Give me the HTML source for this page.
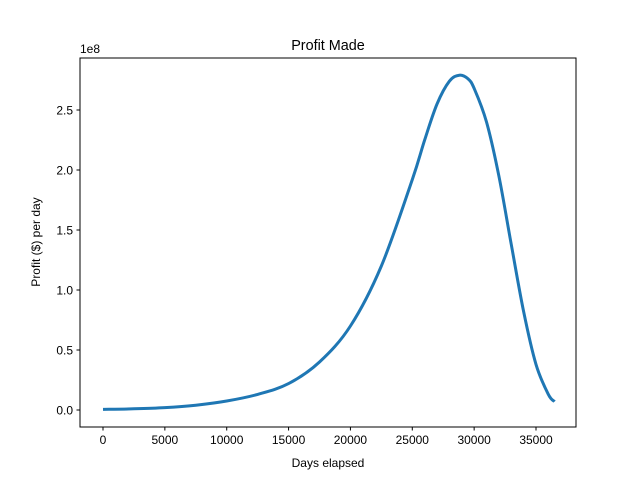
<!DOCTYPE html>
<html><head><meta charset="utf-8"><style>body{margin:0;background:#fff}svg{font-family:"Liberation Sans","DejaVu Sans",sans-serif}</style></head>
<body>
<svg id="chart" width="640" height="480">
<rect width="640" height="480" fill="#fff"/>
<text x="328" y="50" text-anchor="middle" font-size="14.4">Profit Made</text>
<g id="plot"></g>
<rect x="80" y="58" width="496" height="369" fill="none" stroke="#000" stroke-width="1"/>
<text x="328" y="467" text-anchor="middle" font-size="12">Days elapsed</text>
<text transform="translate(40,242) rotate(-90)" text-anchor="middle" font-size="12">Profit ($) per day</text>
<text x="80" y="53" font-size="12">1e8</text>
</svg>
<script>
const xTicks=[0,5000,10000,15000,20000,25000,30000,35000];
const yTicks=[0,0.5,1.0,1.5,2.0,2.5];
const yTickLabels=["0.0","0.5","1.0","1.5","2.0","2.5"];
const days=[0,2500,5000,7500,10000,12500,15000,17500,20000,22500,25000,26000,27000,28000,28800,29500,30000,31000,32000,33000,34000,35000,36000,36500];
const profit=[0.005,0.01,0.02,0.04,0.075,0.13,0.22,0.4,0.7,1.2,1.92,2.25,2.55,2.74,2.79,2.76,2.68,2.4,1.95,1.38,0.82,0.38,0.13,0.07];
const NS="http://www.w3.org/2000/svg";
const xs=v=>103+v*(433/35000);
const ys=v=>410-v*120;
const g=document.getElementById('plot');
function mk(t,a){const e=document.createElementNS(NS,t);for(const k in a)e.setAttribute(k,a[k]);g.appendChild(e);return e;}
xTicks.forEach(t=>{
  const l=mk('line',{x1:xs(t),x2:xs(t),y1:427,y2:430.5,stroke:'#000'});
  
  
  const tx=mk('text',{x:xs(t),y:444,'text-anchor':'middle','font-size':12});
  tx.textContent=t;
  
  
});
yTicks.forEach((t,i)=>{
  const l=mk('line',{x1:76.5,x2:80,y1:ys(t),y2:ys(t),stroke:'#000'});
  
  
  const tx=mk('text',{x:73,y:ys(t)+4.5,'text-anchor':'end','font-size':12});
  tx.textContent=yTickLabels[i];
  
  
});
const pts=days.map((d,i)=>[xs(d),ys(profit[i])]);
let d='M'+pts[0][0]+','+pts[0][1];
for(let i=0;i<pts.length-1;i++){
  const p0=pts[i-1]||pts[i],p1=pts[i],p2=pts[i+1],p3=pts[i+2]||p2;
  const c1=[p1[0]+(p2[0]-p0[0])/6,p1[1]+(p2[1]-p0[1])/6];
  const c2=[p2[0]-(p3[0]-p1[0])/6,p2[1]-(p3[1]-p1[1])/6];
  d+=` C${c1[0]},${c1[1]} ${c2[0]},${c2[1]} ${p2[0]},${p2[1]}`;
}
const path=mk('path',{d:d,fill:'none',stroke:'#1f77b4','stroke-width':3,'stroke-linejoin':'round'});


</script>
</body></html>
